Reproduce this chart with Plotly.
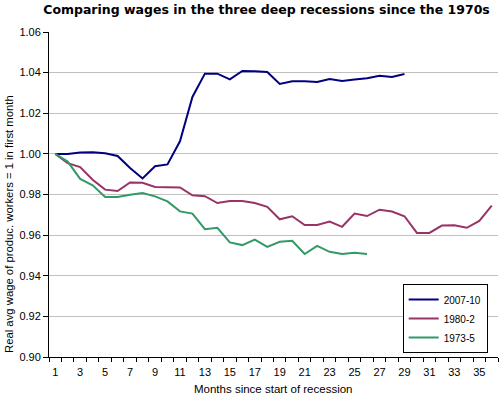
import plotly.graph_objects as go

months = list(range(1, 37))

wages_2007_10 = [1.000, 1.000, 1.0007, 1.0008, 1.0003, 0.9990, 0.9930, 0.9879, 0.9939, 0.9948,
                 1.0062, 1.0280, 1.0395, 1.0395, 1.0367, 1.0408, 1.0407, 1.0403, 1.0344, 1.0357,
                 1.0357, 1.0354, 1.0369, 1.0359, 1.0366, 1.0372, 1.0385, 1.0379, 1.0393]

wages_1980_2 = [1.000, 0.9954, 0.9935, 0.9873, 0.9824, 0.9817, 0.9859, 0.9858, 0.9837, 0.9835,
                0.9835, 0.9796, 0.9792, 0.9758, 0.9768, 0.9768, 0.9758, 0.9739, 0.9678, 0.9693,
                0.9650, 0.9650, 0.9667, 0.9641, 0.9706, 0.9694, 0.9725, 0.9716, 0.9693, 0.9611,
                0.9611, 0.9647, 0.9649, 0.9636, 0.9670, 0.9745]

wages_1973_5 = [1.000, 0.9962, 0.9877, 0.9845, 0.9788, 0.9788, 0.9799, 0.9807, 0.9791, 0.9766,
                0.9717, 0.9706, 0.9629, 0.9636, 0.9564, 0.9551, 0.9578, 0.9542, 0.9567, 0.9572,
                0.9507, 0.9547, 0.9518, 0.9507, 0.9513, 0.9507]

series_names = ["2007-10", "1980-2", "1973-5"]
series_values = [wages_2007_10, wages_1980_2, wages_1973_5]
series_colors = ["#000080", "#993366", "#339966"]

x_tick_labels = [str(m) for m in range(1, 37, 2)]
y_ticks = [0.90, 0.92, 0.94, 0.96, 0.98, 1.00, 1.02, 1.04, 1.06]

fig = go.Figure()
for name, vals, col in zip(series_names, series_values, series_colors):
    fig.add_trace(go.Scatter(
        x=months[:len(vals)], y=vals, name=name, mode="lines",
        line=dict(color=col, width=2),
    ))

axis_font = dict(family="Liberation Sans, Arial, sans-serif", size=11, color="black")

fig.update_layout(
    width=502, height=396,
    margin=dict(l=49, r=4, t=32, b=39),
    paper_bgcolor="white", plot_bgcolor="white",
    font=axis_font,
    title=dict(
        text="<b>Comparing wages in the three deep recessions since the 1970s</b>",
        xref="paper", x=(266.5 - 49) / 449, xanchor="center", y=0.975, yanchor="middle",
        font=dict(family="DejaVu Sans, Verdana, sans-serif", size=12.5, color="black"),
    ),
    showlegend=True,
    legend=dict(
        x=0.977, xanchor="right", y=0.012, yanchor="bottom",
        bordercolor="black", borderwidth=1, bgcolor="white",
        font=dict(family="Liberation Sans, Arial, sans-serif", size=10, color="black"),
        tracegroupgap=0, itemwidth=30,
    ),
    xaxis=dict(
        range=[0.5, 36.5],
        tickmode="array", tickvals=list(range(1, 37, 2)), ticktext=x_tick_labels,
        ticks="outside", ticklen=5, tickcolor="rgba(0,0,0,0)",
        showgrid=False, zeroline=False,
        showline=True, linecolor="black", linewidth=1,
        minor=dict(tickmode="linear", tick0=0.5, dtick=1, ticks="outside",
                   ticklen=4, tickcolor="black", showgrid=False),
        tickfont=axis_font,
    ),
    yaxis=dict(
        range=[0.90, 1.06],
        tickmode="array", tickvals=y_ticks, ticktext=[f"{v:.2f}" for v in y_ticks],
        ticks="outside", ticklen=5, tickcolor="black",
        showgrid=True, gridcolor="#c0c0c0", gridwidth=1, zeroline=False,
        showline=True, linecolor="black", linewidth=1,
        tickfont=axis_font,
    ),
    annotations=[
        dict(
            text="Real avg wage of produc. workers = 1 in first month",
            xref="paper", yref="paper", x=(9 - 49) / 449, y=(357 - 224) / 325,
            xanchor="center", yanchor="middle", textangle=-90, showarrow=False,
            font=dict(family="Liberation Sans, Arial, sans-serif", size=11.3, color="black"),
        ),
        dict(
            text="Months since start of recession",
            xref="paper", yref="paper", x=(273.5 - 49) / 449, y=(357 - 389) / 325,
            xanchor="center", yanchor="middle", showarrow=False,
            font=dict(family="Liberation Sans, Arial, sans-serif", size=11.5, color="black"),
        ),
    ],
)

fig.write_html(
    "out.html",
    config={"displayModeBar": False},
    post_script="document.body.style.margin='0';document.body.style.overflow='hidden';",
)
